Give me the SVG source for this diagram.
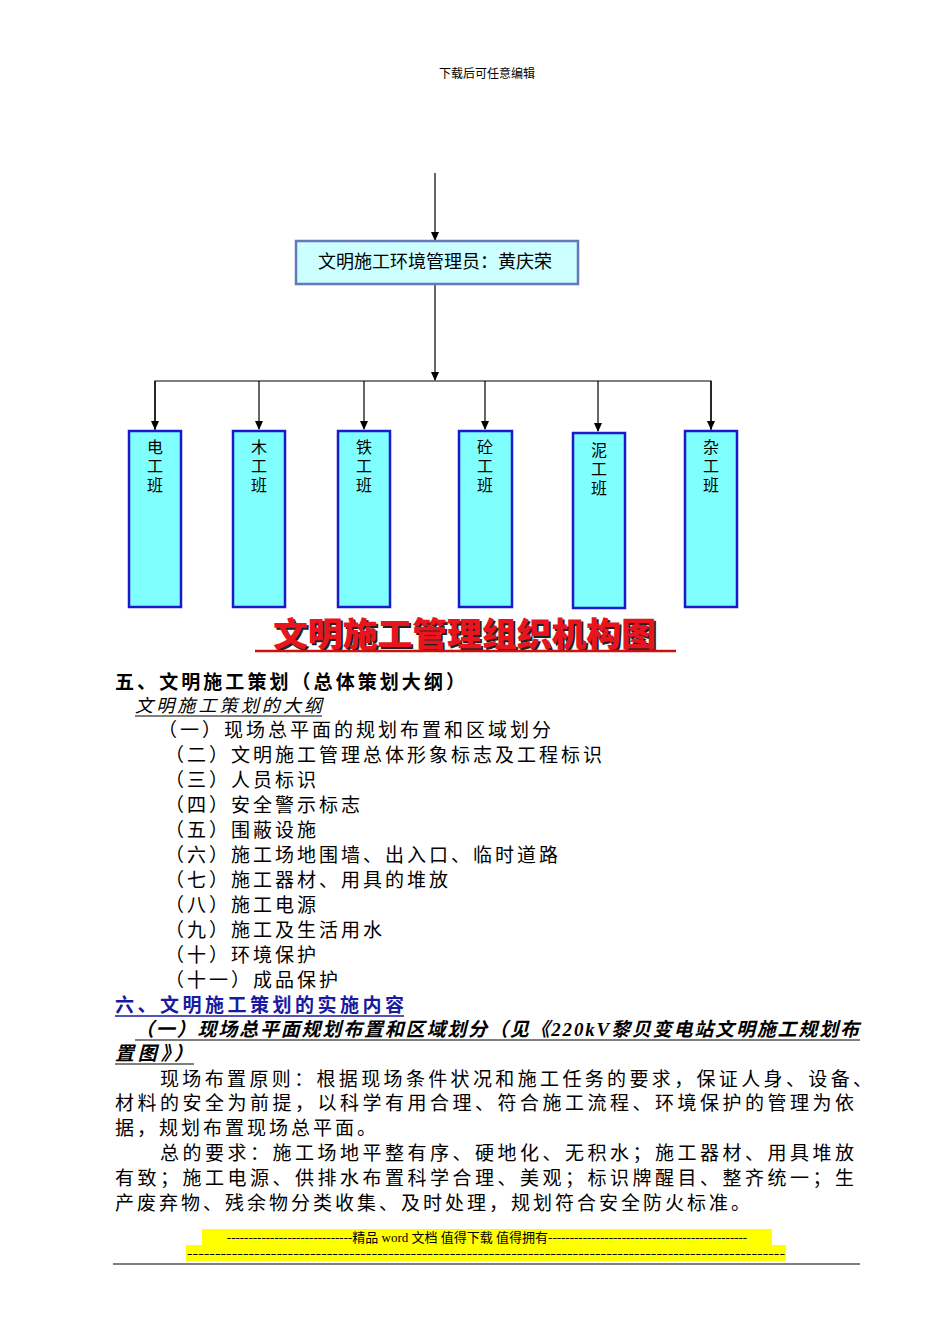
<svg xmlns="http://www.w3.org/2000/svg" width="950" height="1344" viewBox="0 0 950 1344">
<defs>
<style>
.t{font-family:"Liberation Serif","Noto Sans CJK SC",serif;}
.s{font-family:"Noto Sans CJK SC",sans-serif;}
.team{fill:#80ffff;stroke:#1a1acc;stroke-width:2.5}
.c{stroke:#000;stroke-width:1.2;fill:none}
.b{font-size:19px;fill:#000;letter-spacing:3px}
</style>
<marker id="a" markerWidth="10" markerHeight="10" refX="8" refY="5" orient="auto" markerUnits="userSpaceOnUse"><path d="M0,1 L9,5 L0,9 z" fill="#000"/></marker>
</defs>
<rect width="950" height="1344" fill="#fff"/>
<text class="t" x="487" y="78" font-size="12" text-anchor="middle">下载后可任意编辑</text>
<g id="connectors">
<line class="c" x1="435" y1="173" x2="435" y2="240" marker-end="url(#a)"/>
<line class="c" x1="435" y1="285" x2="435" y2="380" marker-end="url(#a)"/>
<polyline class="c" points="155,430 155,381 711,381 711,430"/>
<line class="c" x1="155" y1="381" x2="155" y2="429" marker-end="url(#a)"/>
<line class="c" x1="259" y1="381" x2="259" y2="429" marker-end="url(#a)"/>
<line class="c" x1="364" y1="381" x2="364" y2="429" marker-end="url(#a)"/>
<line class="c" x1="485" y1="381" x2="485" y2="429" marker-end="url(#a)"/>
<line class="c" x1="598" y1="381" x2="598" y2="431" marker-end="url(#a)"/>
<line class="c" x1="711" y1="381" x2="711" y2="429" marker-end="url(#a)"/>
</g>
<g id="manager"><rect x="296" y="241" width="282" height="43" fill="#ccffff" stroke="#6677bb" stroke-width="2.5"/>
<text class="s" x="435" y="268" font-size="18" text-anchor="middle">文明施工环境管理员：黄庆荣</text></g>
<g id="team1"><rect class="team" x="129" y="431" width="52" height="176"/><text class="s" font-size="16" text-anchor="middle"><tspan x="155" y="453">电</tspan><tspan x="155" y="472">工</tspan><tspan x="155" y="491">班</tspan></text></g>
<g id="team2"><rect class="team" x="233" y="431" width="52" height="176"/><text class="s" font-size="16" text-anchor="middle"><tspan x="259" y="453">木</tspan><tspan x="259" y="472">工</tspan><tspan x="259" y="491">班</tspan></text></g>
<g id="team3"><rect class="team" x="338" y="431" width="52" height="176"/><text class="s" font-size="16" text-anchor="middle"><tspan x="364" y="453">铁</tspan><tspan x="364" y="472">工</tspan><tspan x="364" y="491">班</tspan></text></g>
<g id="team4"><rect class="team" x="459" y="431" width="53" height="176"/><text class="s" font-size="16" text-anchor="middle"><tspan x="485" y="453">砼</tspan><tspan x="485" y="472">工</tspan><tspan x="485" y="491">班</tspan></text></g>
<g id="team5"><rect class="team" x="573" y="433" width="52" height="175"/><text class="s" font-size="16" text-anchor="middle"><tspan x="599" y="456">泥</tspan><tspan x="599" y="475">工</tspan><tspan x="599" y="494">班</tspan></text></g>
<g id="team6"><rect class="team" x="685" y="431" width="52" height="176"/><text class="s" font-size="16" text-anchor="middle"><tspan x="711" y="453">杂</tspan><tspan x="711" y="472">工</tspan><tspan x="711" y="491">班</tspan></text></g>
<g id="title">
<text class="s" x="275" y="648" font-size="33" font-weight="900" fill="#222" textLength="383" lengthAdjust="spacingAndGlyphs">文明施工管理组织机构图</text>
<text class="s" x="273" y="646" font-size="33" font-weight="900" fill="#e8141e" textLength="383" lengthAdjust="spacingAndGlyphs">文明施工管理组织机构图</text>
<line x1="255" y1="651" x2="676" y2="651" stroke="#cc1111" stroke-width="2.5"/>
</g>
<text class="s" x="115" y="689" font-size="19" font-weight="bold" textLength="350">五、文明施工策划（总体策划大纲）</text>
<text class="s" x="135" y="712" font-size="18" font-style="italic" textLength="187">文明施工策划的大纲</text>
<line x1="135" y1="716" x2="322" y2="716" stroke="#000" stroke-width="1"/>
<g class="s b">
<text x="158" y="737">（一）现场总平面的规划布置和区域划分</text>
<text x="165" y="762">（二）文明施工管理总体形象标志及工程标识</text>
<text x="165" y="787">（三）人员标识</text>
<text x="165" y="812">（四）安全警示标志</text>
<text x="165" y="837">（五）围蔽设施</text>
<text x="165" y="862">（六）施工场地围墙、出入口、临时道路</text>
<text x="165" y="887">（七）施工器材、用具的堆放</text>
<text x="165" y="912">（八）施工电源</text>
<text x="165" y="937">（九）施工及生活用水</text>
<text x="165" y="962">（十）环境保护</text>
<text x="165" y="987">（十一）成品保护</text>
</g>
<text class="s" x="115" y="1012" font-size="19" font-weight="bold" fill="#1a1aa0" textLength="289">六、文明施工策划的实施内容</text>
<line x1="115" y1="1016" x2="404" y2="1016" stroke="#1a1aa0" stroke-width="1.5"/>
<text class="t" x="135" y="1036" font-size="19" font-weight="bold" font-style="italic" textLength="724">（一）现场总平面规划布置和区域划分（见《220kV黎贝变电站文明施工规划布</text>
<line x1="135" y1="1040" x2="860" y2="1040" stroke="#000" stroke-width="1"/>
<text class="t" x="115" y="1060" font-size="19" font-weight="bold" font-style="italic" textLength="78">置图》）</text>
<line x1="115" y1="1064" x2="194" y2="1064" stroke="#000" stroke-width="1"/>
<g class="s b">
<text x="160" y="1086" textLength="715">现场布置原则：根据现场条件状况和施工任务的要求，保证人身、设备、</text>
<text x="115" y="1110" textLength="742">材料的安全为前提，以科学有用合理、符合施工流程、环境保护的管理为依</text>
<text x="115" y="1135">据，规划布置现场总平面。</text>
<text x="160" y="1160" textLength="697">总的要求：施工场地平整有序、硬地化、无积水；施工器材、用具堆放</text>
<text x="115" y="1185" textLength="742">有致；施工电源、供排水布置科学合理、美观；标识牌醒目、整齐统一；生</text>
<text x="115" y="1210">产废弃物、残余物分类收集、及时处理，规划符合安全防火标准。</text>
</g>
<rect x="202" y="1229" width="570" height="16" fill="#ffff00"/>
<rect x="186" y="1245" width="600" height="16" fill="#ffff00"/>
<text class="t" x="487" y="1242" font-size="13" text-anchor="middle">-----------------------------精品 word 文档 值得下载 值得拥有----------------------------------------------</text>
<text class="t" x="486" y="1258" font-size="13" text-anchor="middle" textLength="598" lengthAdjust="spacingAndGlyphs">-----------------------------------------------------------------------------------------------------------</text>
<line x1="113" y1="1264" x2="860" y2="1264" stroke="#000" stroke-width="1.2"/>
</svg>
